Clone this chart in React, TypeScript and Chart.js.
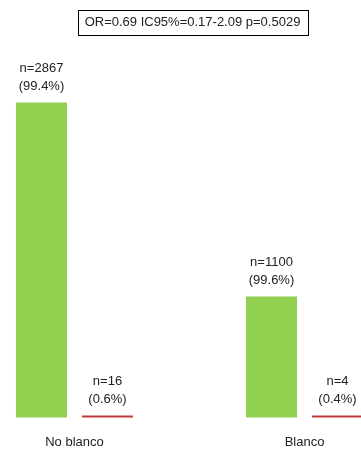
import React, { useEffect, useRef } from "react";
import { Chart, registerables } from "chart.js";

Chart.register(...registerables);

const categories = ["No blanco", "Blanco"];
const greenCounts = [2867, 1100];
const greenPct = ["99.4", "99.6"];
const redCounts = [16, 4];
const redPct = ["0.6", "0.4"];
const titleText = "OR=0.69 IC95%=0.17-2.09 p=0.5029";

const FONT = "'Liberation Sans', Arial, sans-serif";
const TEXT_COLOR = "#222";

const labelsPlugin = {
  id: "nLabels",
  afterDatasetsDraw(chart: any) {
    const ctx = chart.ctx;
    ctx.save();
    ctx.font = `13px ${FONT}`;
    ctx.fillStyle = TEXT_COLOR;
    ctx.textAlign = "center";
    ctx.textBaseline = "middle";
    const sets = [
      { counts: greenCounts, pct: greenPct },
      { counts: redCounts, pct: redPct },
    ];
    sets.forEach((s, di) => {
      const meta = chart.getDatasetMeta(di);
      meta.data.forEach((bar: any, i: number) => {
        const x = bar.x;
        const top = Math.min(bar.y, bar.base);
        ctx.fillText(`(${s.pct[i]}%)`, x, top - 16);
        ctx.fillText(`n=${s.counts[i]}`, x, top - 34);
      });
    });
    ctx.restore();
  },
};

const titleBoxPlugin = {
  id: "titleBox",
  afterDraw(chart: any) {
    const ctx = chart.ctx;
    ctx.save();
    ctx.font = `13px ${FONT}`;
    const w = ctx.measureText(titleText).width;
    const cx = 192.5;
    const cy = 22.5;
    const boxW = w + 14;
    const boxH = 25;
    ctx.strokeStyle = "#000";
    ctx.lineWidth = 1;
    ctx.strokeRect(Math.round(cx - boxW / 2) + 0.5, Math.round(cy - boxH / 2) + 0.5, Math.round(boxW), boxH);
    ctx.fillStyle = TEXT_COLOR;
    ctx.textAlign = "center";
    ctx.textBaseline = "middle";
    ctx.fillText(titleText, cx, cy);
    ctx.restore();
  },
};

export default function App() {
  const ref = useRef<HTMLCanvasElement | null>(null);
  useEffect(() => {
    if (!ref.current) return;
    const chart = new Chart(ref.current, {
      type: "bar",
      data: {
        labels: categories,
        datasets: [
          {
            data: greenCounts,
            backgroundColor: "#92D050",
            borderWidth: 0,
            categoryPercentage: 0.574,
            barPercentage: 0.773,
            clip: false as any,
          },
          {
            data: redCounts,
            backgroundColor: "#BE3A3A",
            borderWidth: 0,
            minBarLength: 2,
            categoryPercentage: 0.574,
            barPercentage: 0.773,
            clip: false as any,
          },
        ],
      },
      options: {
        responsive: false,
        animation: false,
        layout: { padding: { left: 74.5, right: 56.5, top: 0, bottom: -17 } },
        plugins: {
          legend: { display: false },
          tooltip: { enabled: false },
          title: { display: false },
        },
        scales: {
          x: {
            offset: false,
            grid: { display: false, drawTicks: false },
            border: { display: false },
            ticks: {
              padding: 17,
              color: TEXT_COLOR,
              font: { size: 13, family: FONT },
              maxRotation: 0,
              autoSkip: false,
            },
          },
          y: {
            display: false,
            min: 0,
            max: 3800,
          },
        },
      },
      plugins: [labelsPlugin, titleBoxPlugin],
    });
    return () => chart.destroy();
  }, []);
  return (
    <div style={{ position: "fixed", left: 0, top: 0, width: 361, height: 450, background: "#fff", overflow: "hidden" }}>
      <canvas ref={ref} width={361} height={450} style={{ display: "block" }} />
    </div>
  );
}
